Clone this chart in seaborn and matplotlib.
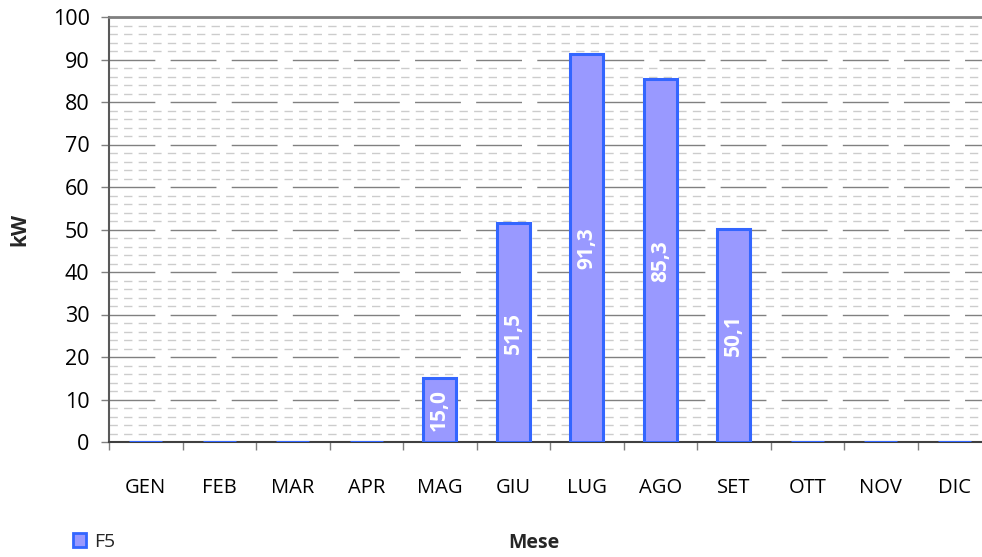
import numpy as np
import pandas as pd
import matplotlib.pyplot as plt
import seaborn as sns
from matplotlib.patches import Patch
from matplotlib.ticker import MultipleLocator

sns.set_style("white")
plt.rcParams["font.family"] = ["Open Sans", "DejaVu Sans"]

mesi = ["GEN", "FEB", "MAR", "APR", "MAG", "GIU", "LUG", "AGO", "SET", "OTT", "NOV", "DIC"]
f5 = [0, 0, 0, 0, 15.0, 51.5, 91.3, 85.3, 50.1, 0, 0, 0]

df = pd.DataFrame({"Mese": mesi, "kW": f5})

fig = plt.figure(figsize=(9.82, 5.57), dpi=100)
ax = fig.add_axes([109 / 982, 115 / 557, 882 / 982, 425 / 557])

sns.barplot(data=df, x="Mese", y="kW", color="#9999FF", width=0.45,
            edgecolor="#3366FF", linewidth=2.2, saturation=1, ax=ax, zorder=3)

ax.set_ylim(0, 100)
ax.set_xlim(-0.5, 11.5)
ax.yaxis.set_major_locator(MultipleLocator(10))
ax.yaxis.set_minor_locator(MultipleLocator(2))
ax.grid(which="major", axis="y", color="#808080", linewidth=1.0, linestyle=(0, (33, 11)), zorder=1)
ax.grid(which="minor", axis="y", color="#cccccc", linewidth=1.0, linestyle=(0, (6, 4.5)), zorder=0)

# tick marks between months
ax.set_xticks(np.arange(12))
ax.set_xticklabels(mesi)
ax.set_xticks(np.arange(-0.5, 12, 1), minor=True)
ax.tick_params(axis="x", which="major", length=0, pad=26, labelsize=14.5, labelcolor="black")
ax.tick_params(axis="x", which="minor", length=6, width=1, color="#808080", direction="out", bottom=True)
ax.tick_params(axis="y", which="major", length=6, width=1, color="#808080", direction="out",
               left=True, pad=8, labelsize=15.5, labelcolor="black")
ax.tick_params(axis="y", which="minor", length=0)

ax.spines["right"].set_visible(False)
ax.spines["top"].set_color("#808080")
ax.spines["top"].set_linewidth(2)
ax.spines["left"].set_color("#595959")
ax.spines["left"].set_linewidth(1.5)
ax.spines["bottom"].set_color("#404040")
ax.spines["bottom"].set_linewidth(1.5)

ax.set_xlabel("")
ax.set_ylabel("")
for i, v in enumerate(f5):
    if v > 0:
        ax.text(i, v / 2, f"{v:.1f}".replace(".", ","), rotation=90, ha="center", va="center",
                color="white", fontweight="bold", fontsize=15, zorder=5)

fig.text(20 / 982, 1 - 230 / 557, "kW", rotation=90, ha="center", va="center",
         fontweight="bold", fontsize=15)
fig.text(534 / 982, 1 - 543 / 557, "Mese", ha="center", va="center", fontweight="bold", fontsize=14)

fig.legend(handles=[Patch(facecolor="#9999FF", edgecolor="#3366FF", linewidth=2, label="F5")],
           loc="center left", bbox_to_anchor=(55 / 982, 1 - 542 / 557), frameon=False,
           handlelength=0.7, handleheight=0.7, handletextpad=0.4, fontsize=14)

fig.savefig("out.png", dpi=100)
